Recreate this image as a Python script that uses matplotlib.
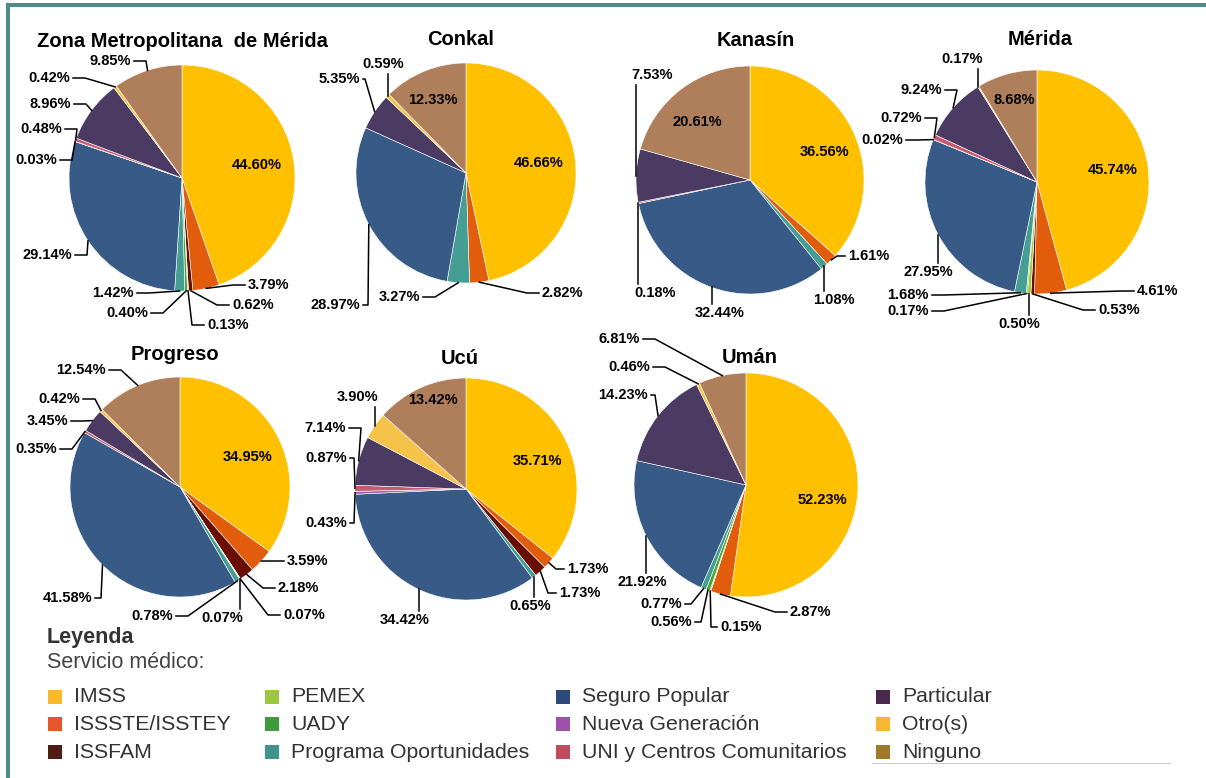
import numpy as np
import matplotlib.pyplot as plt
from matplotlib.patches import Rectangle

W, H = 1206, 778

categorias = ['IMSS', 'ISSSTE/ISSTEY', 'ISSFAM', 'PEMEX', 'UADY',
              'Programa Oportunidades', 'Seguro Popular', 'Nueva Generación',
              'UNI y Centros Comunitarios', 'Particular', 'Otro(s)', 'Ninguno']
titulos = ['Zona Metropolitana  de Mérida', 'Conkal', 'Kanasín', 'Mérida',
           'Progreso', 'Ucú', 'Umán']

# porcentajes por municipio, en el orden de categorias
zona_metro = [44.60, 3.79, 0.62, 0.13, 0.40, 1.42, 29.14, 0.03, 0.48, 8.96, 0.42, 9.85]
conkal = [46.66, 2.82, 0, 0, 0, 3.27, 28.97, 0, 0, 5.35, 0.59, 12.33]
kanasin = [36.56, 1.61, 0, 0, 0, 1.08, 32.44, 0, 0.18, 7.53, 0, 20.61]
merida = [45.74, 4.61, 0.53, 0.50, 0.17, 1.68, 27.95, 0.02, 0.72, 9.24, 0.17, 8.68]
progreso = [34.95, 3.59, 2.18, 0.07, 0.07, 0.78, 41.58, 0, 0.35, 3.45, 0.42, 12.54]
ucu = [35.71, 1.73, 1.73, 0, 0, 0.65, 34.42, 0.43, 0.87, 7.14, 3.90, 13.42]
uman = [52.23, 2.87, 0, 0.15, 0.56, 0.77, 21.92, 0, 0, 14.23, 0.46, 6.81]
datos = [zona_metro, conkal, kanasin, merida, progreso, ucu, uman]

colores = ['#FFC000', '#E25D0B', '#6A0E04', '#A5C93C', '#4DA33A', '#459E94',
           '#375A86', '#A35EB5', '#C55A72', '#4B3B63', '#F6C34A', '#AF7F5B']
colores_ley = ['#FBB829', '#E4572E', '#4E1B16', '#9DC83A', '#3E9A3C', '#3E948A',
               '#2E4A7A', '#9B52A8', '#C04A5E', '#4A2A4C', '#F7B733', '#A07A2A']

# layout en pixeles (x, y desde arriba, radio)
centros = [(182, 178, 113), (466, 173, 110), (750, 180, 114), (1037, 182, 112),
           (180, 487, 110), (466, 489, 111), (746, 485, 112)]
pos_titulos = [(182, 41), (461, 39), (756, 40), (1040, 39), (175, 354), (460, 358), (750, 357)]

# (categoria, x texto, y texto, alineacion, tipo[, largo del tramo])
etiquetas = [
    [(0, 257, 165, 'center', 'in'), (1, 248, 285, 'left', 'h'), (2, 232, 305, 'left', 'h'),
     (3, 207, 325, 'left', 'h'), (4, 148, 313, 'right', 'h'), (5, 134, 293, 'right', 'h'),
     (6, 72, 255, 'right', 'h'), (7, 57, 160, 'right', 'h'), (8, 62, 129, 'right', 'h'),
     (9, 71, 104, 'right', 'h'), (10, 70, 78, 'right', 'h'), (11, 131, 61, 'right', 'h')],
    [(0, 539, 163, 'center', 'in'), (11, 433, 100, 'center', 'in'), (1, 542, 293, 'left', 'h'),
     (5, 420, 297, 'right', 'h'), (6, 360, 305, 'right', 'h', 5), (9, 360, 79, 'right', 'h', 2),
     (10, 383, 64, 'center', 'v')],
    [(0, 825, 152, 'center', 'in'), (11, 697, 122, 'center', 'in'), (1, 848, 256, 'left', 'h', 8),
     (5, 834, 300, 'center', 'v'), (6, 720, 313, 'center', 'v'), (8, 655, 293, 'center', 'v'),
     (9, 652, 75, 'center', 'v')],
    [(0, 1113, 170, 'center', 'in'), (11, 1014, 100, 'center', 'in'), (1, 1137, 291, 'left', 'h'),
     (2, 1098, 310, 'left', 'h'), (3, 1019, 324, 'center', 'v'), (4, 929, 311, 'right', 'h'),
     (5, 929, 295, 'right', 'h'), (6, 928, 272, 'center', 'v'), (7, 903, 140, 'right', 'h'),
     (8, 922, 118, 'right', 'h'), (9, 942, 90, 'right', 'h'), (10, 962, 59, 'center', 'v')],
    [(0, 248, 457, 'center', 'in'), (1, 287, 561, 'left', 'h'), (2, 278, 588, 'left', 'h'),
     (3, 283, 615, 'left', 'h'), (4, 222, 618, 'center', 'v'), (5, 173, 616, 'right', 'h'),
     (6, 92, 598, 'right', 'h', 6), (8, 57, 449, 'right', 'h'), (9, 68, 421, 'right', 'h'),
     (10, 80, 399, 'right', 'h'), (11, 106, 370, 'right', 'h')],
    [(0, 537, 461, 'center', 'in'), (11, 433, 400, 'center', 'in'), (1, 567, 569, 'left', 'h', 8),
     (2, 559, 593, 'left', 'h', 8), (5, 530, 606, 'center', 'v'), (6, 405, 620, 'center', 'v'),
     (7, 347, 523, 'right', 'h', 4), (8, 347, 458, 'right', 'h', 4), (9, 346, 428, 'right', 'h'),
     (10, 358, 397, 'center', 'v')],
    [(0, 822, 500, 'center', 'in'), (1, 790, 612, 'left', 'h'), (3, 720, 627, 'left', 'h', 6),
     (4, 692, 622, 'right', 'h', 6), (5, 682, 604, 'right', 'h', 6), (6, 642, 582, 'center', 'v'),
     (9, 648, 395, 'right', 'h', 4), (10, 650, 367, 'right', 'h'), (11, 640, 339, 'right', 'h')],
]

fam = ['Liberation Sans', 'DejaVu Sans']
fuente = dict(family=fam, fontsize=10.5, fontweight='bold', color='black')

fig = plt.figure(figsize=(W / 100, H / 100), dpi=100)
ax = fig.add_axes([0, 0, 1, 1])

for vals, (cx, cy, r), tit, ptit, etqs in zip(datos, centros, titulos, pos_titulos, etiquetas):
    idx = [i for i, v in enumerate(vals) if v > 0]
    wedges, _ = ax.pie([vals[i] for i in idx], colors=[colores[i] for i in idx],
                       startangle=90, counterclock=False, center=(cx, H - cy), radius=r,
                       wedgeprops=dict(edgecolor='white', linewidth=0.4))
    cuña = dict(zip(idx, wedges))
    ax.text(ptit[0], H - ptit[1], tit, ha='center', va='center', family=fam,
            fontsize=14.5, fontweight='bold')
    for e in etqs:
        cat, tx, ty, ha, tipo = e[:5]
        tramo = e[5] if len(e) > 5 else 12
        texto = f'{vals[cat]:.2f}%'
        yd = H - ty
        if tipo != 'in':
            w = cuña[cat]
            m = np.radians((w.theta1 + w.theta2) / 2)
            px = cx + r * np.cos(m)
            py = H - cy + r * np.sin(m)
            if tipo == 'h':
                s = 1 if ha == 'left' else -1
                x_fin = tx - s * 3
                x_codo = x_fin - s * tramo
                ax.plot([px, x_codo, x_fin], [py, yd, yd], color='black', lw=1.1)
            else:
                y_fin = yd + 9 if py > yd else yd - 10
                ax.plot([px, px], [py, y_fin], color='black', lw=1.1)
        ax.text(tx, yd, texto, ha=ha, va='center', **fuente)

# leyenda
ax.text(47, H - 638, 'Leyenda', ha='left', va='center', family=fam, fontsize=15.5,
        fontweight='bold', color='#333333')
ax.text(47, H - 662, 'Servicio médico:', ha='left', va='center', family=fam,
        fontsize=15.5, color='#444444')
col_x = [48, 265, 556, 876]
fila_y = [697, 724, 752]
for i, (cat, c) in enumerate(zip(categorias, colores_ley)):
    x = col_x[i // 3]
    y = fila_y[i % 3]
    ax.add_patch(Rectangle((x, H - y - 7), 14, 14, color=c, lw=0))
    ax.text(x + 26, H - y, cat, ha='left', va='center', family=fam, fontsize=15.3,
            color='#333333')
ax.plot([872, 1170], [H - 763, H - 763], color='#cccccc', lw=0.8)

# marco
borde = '#4E8B89'
ax.add_patch(Rectangle((6, 0), 4, H - 3, color=borde, lw=0, clip_on=False))
ax.add_patch(Rectangle((6, H - 7), W - 6, 4, color=borde, lw=0, clip_on=False))

ax.set_xlim(0, W)
ax.set_ylim(0, H)
ax.set_aspect('auto')
ax.axis('off')
fig.savefig('out.png', dpi=100, facecolor='white')
